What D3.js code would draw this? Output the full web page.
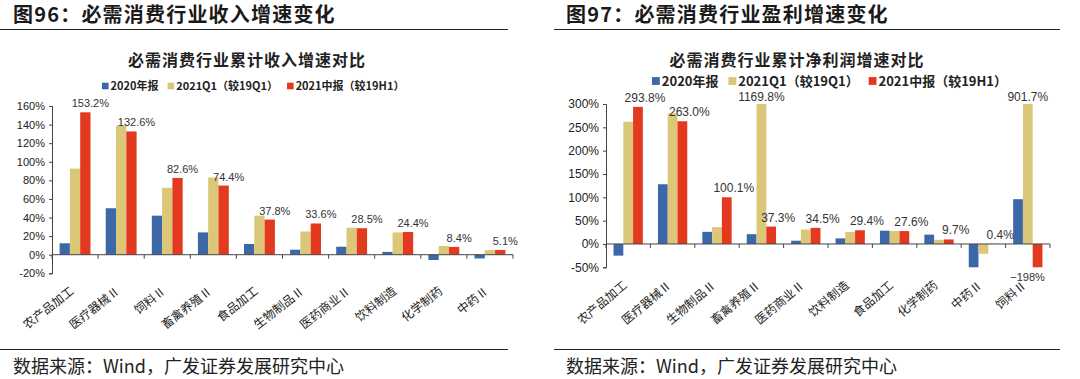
<!DOCTYPE html>
<html><head><meta charset="utf-8">
<script src="https://cdn.jsdelivr.net/npm/d3@7"></script>
<style>
body{margin:0;background:#fff;}
svg{display:block;}
</style></head>
<body>
<svg id="c" width="1080" height="379"></svg>
<script>
// ---- data ----
const seriesNames = ["2020年报", "2021Q1（较19Q1）", "2021中报（较19H1）"];
const seriesColors = ["#3d68a8", "#dcc677", "#e2391f"];

const leftCategories = ["农产品加工","医疗器械Ⅱ","饲料Ⅱ","畜禽养殖Ⅱ","食品加工","生物制品Ⅱ","医药商业Ⅱ","饮料制造","化学制药","中药Ⅱ"];
const left2020 = [12.3, 50, 42, 24, 11.5, 5.4, 8.6, 3, -5.7, -4];
const left2021Q1 = [92.6, 139, 72, 83, 42, 25, 29, 24, 9.4, 5];
const left2021H1 = [153.2, 132.6, 82.6, 74.4, 37.8, 33.6, 28.5, 24.4, 8.4, 5.1];
const leftTicks = [-20, 0, 20, 40, 60, 80, 100, 120, 140, 160];

const rightCategories = ["农产品加工","医疗器械Ⅱ","生物制品Ⅱ","畜禽养殖Ⅱ","医药商业Ⅱ","饮料制造","食品加工","化学制药","中药Ⅱ","饲料Ⅱ"];
const right2020 = [-25, 128, 26, 21, 7, 12, 28.5, 20, -50, 96];
const right2021Q1 = [262, 280, 36, 1169.8, 31, 26, 28, 9, -21, 901.7];
const right2021H1 = [293.8, 263.0, 100.1, 37.3, 34.5, 29.4, 27.6, 9.7, 0.4, -198];
const rightTicks = [-50, 0, 50, 100, 150, 200, 250, 300];

const svg = d3.select("#c");
const CJK = "'Noto Sans CJK SC', 'Noto Sans', sans-serif";
const LAT = "'Liberation Sans', Arial, sans-serif";

function panel(o) {
  const g = svg.append("g");
  // header
  g.append("text").attr("x", o.hx).attr("y", 22).attr("font-family", CJK).attr("font-weight", "bold")
    .attr("font-size", 20).attr("letter-spacing", 1.2).attr("fill", "#1a1a1a").text(o.header);
  g.append("line").attr("x1", o.lx1).attr("x2", o.lx2).attr("y1", 29.5).attr("y2", 29.5).attr("stroke", "#222").attr("stroke-width", 1.2);
  g.append("line").attr("x1", o.lx1).attr("x2", o.lx2).attr("y1", 349.5).attr("y2", 349.5).attr("stroke", "#222").attr("stroke-width", 1.2);
  g.append("text").attr("x", o.hx).attr("y", 373).attr("font-family", CJK)
    .attr("font-size", 18).attr("fill", "#222").text("数据来源：Wind，广发证券发展研究中心");
  // chart title
  g.append("text").attr("x", o.tx).attr("y", 66).attr("text-anchor", "middle").attr("font-family", CJK)
    .attr("font-weight", "bold").attr("font-size", 16).attr("letter-spacing", 1).attr("fill", "#222").text(o.title);
  // legend
  const leg = g.append("g").attr("transform", `translate(${o.legX},${o.legY})`);
  let cx = 0;
  seriesNames.forEach((n, i) => {
    const sq = o.legFs * 0.6;
    leg.append("rect").attr("x", cx).attr("y", -sq / 2).attr("width", sq).attr("height", sq).attr("fill", seriesColors[i]);
    const t = leg.append("text").attr("x", cx + sq + 2).attr("y", 0).attr("dy", "0.35em")
      .attr("font-family", CJK).attr("font-weight", "bold").attr("font-size", o.legFs).attr("fill", "#222").text(n);
    cx += sq + 2 + t.node().getComputedTextLength() + o.legGap;
  });

  const series = [o.s0, o.s1, o.s2];
  const x0 = d3.scaleBand().domain(o.cats).range([o.x0, o.x1]);
  const bw = x0.bandwidth();
  const x1 = d3.scaleBand().domain([0, 1, 2]).range([bw * (1 - o.gfrac) / 2, bw * (1 + o.gfrac) / 2]);
  const y = d3.scaleLinear().domain(o.ydom).range([o.yb, o.yt]).clamp(true);

  // bars
  series.forEach((s, si) => {
    g.append("g").selectAll("rect").data(s).join("rect")
      .attr("x", (d, i) => x0(o.cats[i]) + x1(si))
      .attr("width", x1.bandwidth())
      .attr("y", d => Math.min(y(d), y(0)))
      .attr("height", d => Math.abs(y(d) - y(0)))
      .attr("fill", seriesColors[si]);
  });

  // y axis
  const ya = d3.axisLeft(y).tickValues(o.ticks).tickSize(3).tickFormat(d => d + "%");
  const yg = g.append("g").attr("transform", `translate(${o.x0},0)`).call(ya);
  yg.select(".domain").attr("stroke", "#444");
  yg.selectAll(".tick line").attr("stroke", "#444");
  yg.selectAll("text").attr("font-family", LAT).attr("font-size", o.tickFs).attr("fill", "#222").attr("x", -7);

  // x axis at zero with boundary ticks
  const xg = g.append("g");
  xg.append("line").attr("x1", o.x0).attr("x2", o.x1).attr("y1", y(0)).attr("y2", y(0)).attr("stroke", "#444");
  xg.selectAll("line.t").data(o.cats.concat(["__end"])).join("line").attr("class", "t")
    .attr("x1", (d, i) => i < o.cats.length ? x0(d) : o.x1)
    .attr("x2", (d, i) => i < o.cats.length ? x0(d) : o.x1)
    .attr("y1", y(0)).attr("y2", y(0) + 4).attr("stroke", "#444");

  // category labels
  g.append("g").selectAll("text").data(o.cats).join("text")
    .attr("transform", d => `translate(${x0(d) + bw / 2 - 3},${o.yb + 16}) rotate(${o.rot})`)
    .attr("text-anchor", "end").attr("dy", "0.35em")
    .attr("font-family", CJK).attr("font-size", 12).attr("fill", "#222").text(d => d);

  // value labels: red series always; other series when clipped above
  const [ymin, ymax] = o.ydom;
  const labels = [];
  o.s2.forEach((v, i) => {
    const cxm = x0(o.cats[i]) + x1(2) + x1.bandwidth() / 2;
    if (v < ymin) labels.push({x: cxm - 10, y: o.yb + 14, t: d3.format(".0f")(v) + "%", fs: o.labFs - 1});
    else labels.push({x: cxm + o.labDx, y: y(v) - 5, t: d3.format(".1f")(v) + "%", fs: o.labFs});
  });
  [o.s0, o.s1].forEach((s, si) => s.forEach((v, i) => {
    if (v > ymax) labels.push({x: x0(o.cats[i]) + x1(si) + x1.bandwidth() / 2, y: y(v) - 3, t: d3.format(".1f")(v) + "%", fs: o.labFs});
  }));
  g.append("g").selectAll("text").data(labels).join("text")
    .attr("x", d => d.x).attr("y", d => d.y).attr("text-anchor", "middle")
    .attr("font-family", LAT).attr("font-size", d => d.fs).attr("fill", "#333").text(d => d.t);
}

panel({
  header: "图96：必需消费行业收入增速变化", hx: 13, lx1: 0, lx2: 508,
  title: "必需消费行业累计收入增速对比", tx: 247,
  legX: 102, legY: 86, legFs: 11, legGap: 9,
  cats: leftCategories, s0: left2020, s1: left2021Q1, s2: left2021H1,
  x0: 52, x1: 513, gfrac: 0.67, ydom: [-20, 160], yb: 273.3, yt: 106, ticks: leftTicks,
  tickFs: 11, labFs: 11, labDx: 5, rot: -38
});
panel({
  header: "图97：必需消费行业盈利增速变化", hx: 566, lx1: 554, lx2: 1060,
  title: "必需消费行业累计净利润增速对比", tx: 797,
  legX: 652, legY: 81, legFs: 13, legGap: 10,
  cats: rightCategories, s0: right2020, s1: right2021Q1, s2: right2021H1,
  x0: 606, x1: 1050, gfrac: 0.66, ydom: [-50, 300], yb: 267.3, yt: 104, ticks: rightTicks,
  tickFs: 12, labFs: 12, labDx: 7, rot: -40
});
</script>
</body></html>
